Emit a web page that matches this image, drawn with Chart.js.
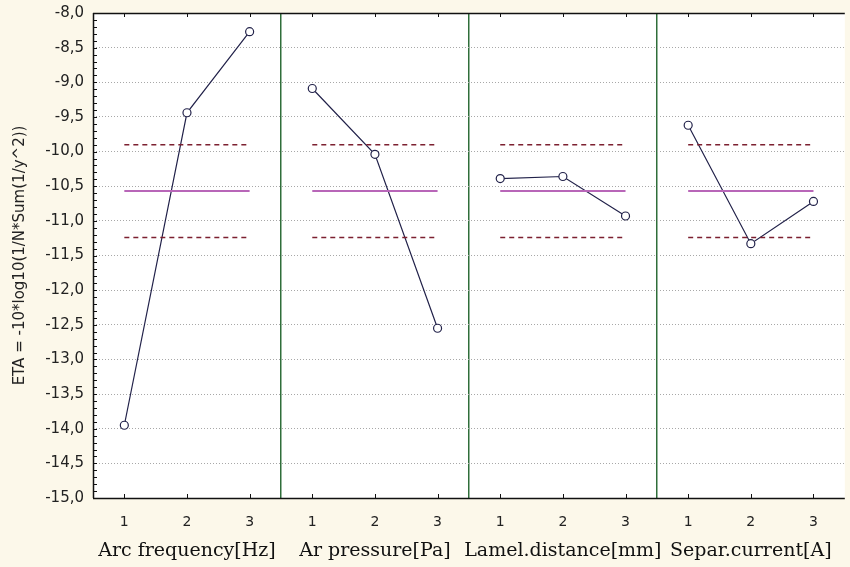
<!DOCTYPE html>
<html>
<head>
<meta charset="utf-8">
<script src="https://cdn.jsdelivr.net/npm/chart.js@4"></script>
<style>
  html, body { margin: 0; padding: 0; background: #fcf8ea; }
  #wrap { width: 850px; height: 567px; }
</style>
</head>
<body>
<div id="wrap"><canvas id="eta-chart" width="850" height="567"></canvas></div>
<script>
// factors and their levels
const factors = ['Arc frequency[Hz]', 'Ar pressure[Pa]', 'Lamel.distance[mm]', 'Separ.current[A]'];
const levels = ['1', '2', '3'];

// mean ETA per level, one array per factor
const arcFrequency = [-13.95, -9.44, -8.27];
const arPressure = [-9.09, -10.04, -12.55];
const lamelDistance = [-10.39, -10.36, -10.93];
const separCurrent = [-9.62, -11.33, -10.72];

// overall mean and the dashed limits
const meanEta = [-10.57, -10.57, -10.57];
const upperLimit = [-9.90, -9.90, -9.90];
const lowerLimit = [-11.24, -11.24, -11.24];

// y axis range
const yMin = -15, yMax = -8, yStep = 0.5;

window.onload = function() {
    const ctx = document.getElementById('eta-chart').getContext('2d');

    // one slot per level, panels side by side
    const labels = [];
    factors.forEach(() => levels.forEach(l => labels.push(l)));
    const repeat = arr => factors.map(() => arr).flat();

    // don't join the last point of a panel to the first of the next
    const panelSegment = color => ({
        borderColor: c => (c.p0DataIndex % 3 === 2) ? 'rgba(0,0,0,0)' : color
    });

    const navy = '#22224a';
    const data = {
        labels: labels,
        datasets: [
            {
                label: 'mean',
                data: repeat(meanEta),
                borderColor: '#b866b8',
                borderWidth: 2,
                pointRadius: 0,
                segment: panelSegment('#b866b8')
            },
            {
                label: 'upper',
                data: repeat(upperLimit),
                borderColor: '#7c2030',
                borderWidth: 1.5,
                borderDash: [5, 4],
                pointRadius: 0,
                segment: panelSegment('#7c2030')
            },
            {
                label: 'lower',
                data: repeat(lowerLimit),
                borderColor: '#7c2030',
                borderWidth: 1.5,
                borderDash: [5, 4],
                pointRadius: 0,
                segment: panelSegment('#7c2030')
            },
            {
                label: 'ETA',
                data: [].concat(arcFrequency, arPressure, lamelDistance, separCurrent),
                borderColor: navy,
                borderWidth: 1.2,
                pointRadius: 4,
                pointBackgroundColor: '#ffffff',
                pointBorderColor: navy,
                pointBorderWidth: 1.2,
                segment: panelSegment(navy)
            }
        ]
    };

    // cream page, white plot area, frame lines, small inner ticks
    const frame = {
        id: 'frame',
        beforeDraw(chart) {
            const c = chart.ctx, a = chart.chartArea;
            c.save();
            c.fillStyle = '#fcf8ea';
            c.fillRect(0, 0, chart.width, chart.height);
            c.fillStyle = '#ffffff';
            c.fillRect(a.left, a.top, a.right - a.left, a.bottom - a.top);
            c.restore();
        },
        afterDraw(chart) {
            const c = chart.ctx, a = chart.chartArea;
            const y = chart.scales.y, x = chart.scales.x;
            c.save();
            c.setLineDash([]);
            c.strokeStyle = '#111';
            c.lineWidth = 1.5;
            c.beginPath();
            c.moveTo(a.left, a.top + 0.5);
            c.lineTo(a.right, a.top + 0.5);
            c.moveTo(a.left + 0.5, a.top);
            c.lineTo(a.left + 0.5, a.bottom);
            c.moveTo(a.left, a.bottom + 0.5);
            c.lineTo(a.right, a.bottom + 0.5);
            c.stroke();
            c.lineWidth = 1;
            c.beginPath();
            for (let v = yMin; v <= yMax + 1e-6; v += 0.1) {
                const py = Math.round(y.getPixelForValue(v)) + 0.5;
                c.moveTo(a.left, py);
                c.lineTo(a.left + 4, py);
            }
            for (let i = 0; i < labels.length; i++) {
                const px = Math.round(x.getPixelForValue(i)) + 0.5;
                c.moveTo(px, a.top);
                c.lineTo(px, a.top + 4);
                c.moveTo(px, a.bottom);
                c.lineTo(px, a.bottom - 4);
            }
            c.stroke();
            c.restore();
        }
    };

    const noSidePad = s => { s.paddingLeft = 0; s.paddingRight = 0; };

    const config = {
        type: 'line',
        data: data,
        plugins: [frame],
        options: {
            responsive: false,
            animation: false,
            layout: { padding: { top: 13, right: -6, left: 0, bottom: 0 } },
            plugins: {
                legend: { display: false },
                tooltip: { enabled: false }
            },
            scales: {
                x: {
                    type: 'category',
                    offset: true,
                    position: 'bottom',
                    grid: {
                        offset: true,
                        drawTicks: false,
                        lineWidth: 1.5,
                        color: c => (c.index > 0 && c.index < labels.length && c.index % 3 === 0) ? '#2f6e3a' : 'rgba(0,0,0,0)'
                    },
                    border: { display: false },
                    ticks: {
                        color: '#222',
                        font: { family: 'DejaVu Sans', size: 14 },
                        padding: 16,
                        maxRotation: 0,
                        autoSkip: false
                    },
                    afterFit: s => { s.height = 38; noSidePad(s); }
                },
                factor: {
                    type: 'category',
                    labels: factors,
                    offset: true,
                    position: 'bottom',
                    grid: { display: false, drawTicks: false },
                    border: { display: false },
                    ticks: {
                        color: '#111',
                        font: { family: 'DejaVu Serif', size: 19 },
                        padding: 4,
                        maxRotation: 0,
                        autoSkip: false
                    },
                    afterFit: s => { s.height = 31; noSidePad(s); }
                },
                y: {
                    min: yMin,
                    max: yMax,
                    grid: {
                        color: '#a8a8a8',
                        lineWidth: 1,
                        drawTicks: false
                    },
                    // dash applies to the horizontal grid lines
                    border: { display: false, dash: [1, 2] },
                    ticks: {
                        stepSize: yStep,
                        color: '#222',
                        font: { family: 'DejaVu Sans', size: 15 },
                        padding: 9,
                        callback: v => v.toFixed(1).replace('.', ',')
                    },
                    title: {
                        display: true,
                        text: 'ETA = -10*log10(1/N*Sum(1/y^2))',
                        color: '#222',
                        font: { family: 'DejaVu Sans', size: 15 },
                        padding: { top: 11, bottom: 0 }
                    },
                    afterFit: s => { s.width = 93; s.paddingTop = 0; s.paddingBottom = 0; }
                }
            }
        }
    };

    const etaChart = new Chart(ctx, config);
};
</script>
</body>
</html>
